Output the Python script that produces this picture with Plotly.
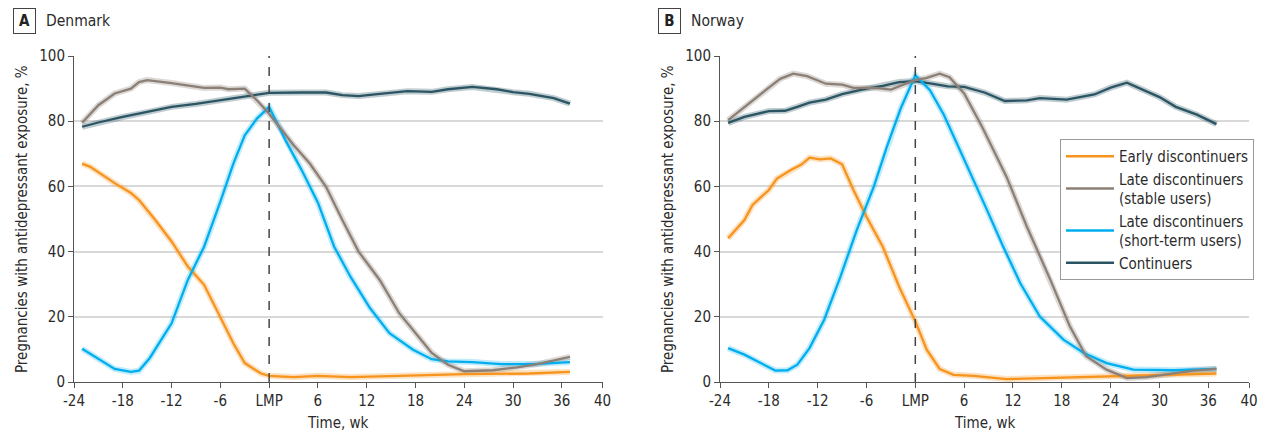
import plotly.graph_objects as go

# ---------------- data ----------------
# Denmark
dk_cont_wk = [-23, -21, -18, -15, -12, -9, -6, -3, 0, 4, 7, 9, 11, 13, 17, 20, 22, 25, 28, 30, 32, 35, 37]
dk_cont = [78.3, 79.6, 81.3, 82.8, 84.4, 85.3, 86.4, 87.5, 88.7, 88.8, 88.8, 88.0, 87.7, 88.2, 89.2, 89.0, 89.8, 90.5, 89.8, 88.9, 88.4, 87.1, 85.4]

dk_stab_wk = [-23, -21, -19, -17, -16, -15, -12, -8, -6, -5, -3, -1.5, 0, 3, 5, 7, 9, 11, 13.6, 16, 18, 20, 22, 24, 27.5, 30.5, 33, 37]
dk_stab = [79.5, 84.9, 88.5, 90.0, 92.0, 92.6, 91.7, 90.2, 90.3, 89.8, 90.0, 86.4, 82.3, 72.7, 67.0, 59.9, 49.7, 40.0, 31.3, 21.1, 15.0, 8.9, 5.3, 3.3, 3.6, 4.5, 5.5, 7.7]

dk_short_wk = [-23, -20.5, -19, -17, -16, -14.7, -12, -10, -8, -6, -4.4, -3, -1.5, 0, 2, 4, 6, 8, 10, 12.4, 14.8, 17.7, 20, 22, 25, 28.5, 32.5, 37]
dk_short = [10.2, 6.3, 4.0, 3.1, 3.5, 7.3, 18.0, 31.3, 41.5, 55.3, 67.0, 75.7, 80.8, 84.4, 74.2, 65.0, 55.0, 41.5, 32.3, 22.7, 15.0, 9.9, 7.0, 6.3, 6.1, 5.5, 5.5, 6.1]

dk_early_wk = [-23, -22, -19, -17, -16, -14, -12, -10, -8, -6, -4.4, -3, -1, 0, 3, 6, 10, 16, 24, 32, 37]
dk_early = [67.0, 66.0, 61.0, 58.0, 55.8, 49.7, 43.1, 35.4, 29.8, 20.1, 11.9, 5.8, 2.6, 1.9, 1.5, 1.9, 1.5, 1.9, 2.4, 2.6, 3.1]

# Norway
no_cont_wk = [-23, -21, -18, -16, -14.5, -13, -11, -9, -6, -4, -2, 0, 2, 4, 6, 8.5, 11, 13.7, 15.3, 18.6, 22, 24, 26, 28, 30, 32, 34.6, 37]
no_cont = [79.5, 81.3, 83.1, 83.2, 84.4, 85.7, 86.6, 88.3, 90.0, 90.8, 92.0, 92.3, 91.5, 90.7, 90.5, 88.8, 86.2, 86.4, 87.1, 86.6, 88.2, 90.3, 91.8, 89.5, 87.4, 84.4, 82.0, 79.1]

no_stab_wk = [-23, -21, -20, -18, -16.6, -15, -13.3, -11, -9, -7.6, -5, -3, -1.4, 0, 1.4, 3, 4.2, 6, 8.2, 11.2, 13.7, 16.6, 19, 21, 23.5, 26, 28.4, 31.7, 34.2, 37]
no_stab = [80.3, 84.4, 86.4, 90.3, 93.0, 94.6, 93.8, 91.5, 91.2, 90.2, 90.2, 89.7, 91.3, 92.6, 93.3, 94.6, 93.5, 88.5, 78.3, 63.0, 47.7, 31.3, 17.0, 7.9, 3.8, 1.2, 1.5, 2.6, 3.5, 4.0]

no_short_wk = [-23, -21, -19, -17.2, -15.7, -14.5, -13, -11.2, -9.2, -7.2, -5.1, -3.5, -1.8, 0, 1.8, 3.5, 5.5, 7.2, 8.8, 10.8, 12.9, 15.3, 18.2, 20.7, 23.5, 26.8, 31.7, 37]
no_short = [10.4, 8.4, 5.8, 3.5, 3.6, 5.3, 10.4, 19.1, 32.3, 46.6, 59.9, 72.1, 83.9, 94.1, 89.5, 82.0, 71.0, 61.9, 52.8, 41.5, 30.3, 20.1, 13.0, 8.9, 5.8, 3.8, 3.6, 4.0]

no_early_wk = [-23, -21, -20, -18, -17, -15.3, -14, -13, -11.7, -10.4, -9, -7.6, -6, -4, -2, 0, 1.4, 3, 4.7, 7.2, 11.2, 15.3, 21.5, 27.6, 37]
no_early = [44.1, 49.7, 54.3, 58.9, 62.4, 65.0, 66.7, 68.8, 68.3, 68.6, 66.8, 58.9, 50.7, 41.5, 29.3, 18.6, 9.9, 4.0, 2.2, 1.9, 0.9, 1.2, 1.5, 2.0, 2.6]

series_names = ["Early discontinuers", "Late discontinuers<br>(stable users)",
                "Late discontinuers<br>(short-term users)", "Continuers"]
panel_titles = ["A", "B"]
panel_countries = ["Denmark", "Norway"]
x_tickvals = [-24, -18, -12, -6, 0, 6, 12, 18, 24, 30, 36, 41]
x_ticktext = ["-24", "-18", "-12", "-6", "LMP", "6", "12", "18", "24", "30", "36", "40"]
y_tickvals = [0, 20, 40, 60, 80, 100]

# ---------------- styling ----------------
colors = ["#F7941D", "#8C8076", "#00AEEF", "#2C5564"]
bands = ["rgba(247,148,29,0.28)", "rgba(140,128,118,0.30)", "rgba(0,174,239,0.25)", "rgba(44,85,100,0.30)"]
FONT = "Liberation Sans Narrow, DejaVu Sans Condensed, Arial Narrow, sans-serif"
TXT = "#2b2b2b"
AX = "#555555"

W, H = 1265, 434
ML, MR, MT, MB = 74, 16, 56, 52
PW, PH = W - ML - MR, H - MT - MB
def px(xp):
    return (xp - ML) / PW
def py(yp):
    return (H - MB - yp) / PH

panels = [
    dict(xa="x", ya="y", data=[(dk_early_wk, dk_early), (dk_stab_wk, dk_stab), (dk_short_wk, dk_short), (dk_cont_wk, dk_cont)],
         x0=74, x1=602.5),
    dict(xa="x2", ya="y2", data=[(no_early_wk, no_early), (no_stab_wk, no_stab), (no_short_wk, no_short), (no_cont_wk, no_cont)],
         x0=720, x1=1249),
]
y_top, y_bot = 56, 382

fig = go.Figure()
draw_order = [3, 0, 2, 1]
for pi, p in enumerate(panels):
    for si in draw_order:
        wk, val = p["data"][si]
        fig.add_trace(go.Scatter(x=wk, y=val, mode="lines", xaxis=p["xa"], yaxis=p["ya"],
                                 line=dict(color=bands[si], width=6), showlegend=False, hoverinfo="skip"))
    for si in draw_order:
        wk, val = p["data"][si]
        fig.add_trace(go.Scatter(x=wk, y=val, mode="lines", xaxis=p["xa"], yaxis=p["ya"],
                                 name=series_names[si], legendrank=si + 1,
                                 line=dict(color=colors[si], width=2.3), showlegend=(pi == 1)))

axis_common = dict(showgrid=False, zeroline=False, showline=True, linecolor=AX, linewidth=1,
                   ticks="outside", ticklen=5, tickcolor=AX, tickwidth=1, automargin=False,
                   tickfont=dict(family=FONT, size=15, color=TXT))
layout = dict(width=W, height=H, margin=dict(l=ML, r=MR, t=MT, b=MB, autoexpand=False),
              paper_bgcolor="white", plot_bgcolor="white",
              font=dict(family=FONT, size=15, color=TXT))
shapes = []
annotations = []
for pi, p in enumerate(panels):
    sfx = "" if pi == 0 else "2"
    layout["xaxis" + sfx] = dict(axis_common, domain=[px(p["x0"]), px(p["x1"])], range=[-24, 41],
                                 tickmode="array", tickvals=x_tickvals, ticktext=x_ticktext,
                                 anchor="y" + sfx, fixedrange=True)
    layout["yaxis" + sfx] = dict(axis_common, domain=[py(y_bot), py(y_top)], range=[0, 100],
                                 tickmode="array", tickvals=y_tickvals, anchor="x" + sfx,
                                 showgrid=True, gridcolor="#d9d9d9", gridwidth=2, fixedrange=True)
    # LMP dashed reference line
    shapes.append(dict(type="line", xref="x" + sfx, yref="y" + sfx, x0=0, x1=0, y0=0, y1=100,
                       line=dict(color="#444444", width=1.5, dash="dash"), layer="above"))
    # axis titles
    annotations.append(dict(text="Time, wk", xref="paper", yref="paper",
                            x=px((p["x0"] + p["x1"]) / 2), y=py(423), xanchor="center", yanchor="middle",
                            showarrow=False, font=dict(family=FONT, size=15, color=TXT)))
    annotations.append(dict(text="Pregnancies with antidepressant exposure, %", xref="paper", yref="paper",
                            x=px(p["x0"] - 52), y=py((y_top + y_bot) / 2), textangle=-90,
                            xanchor="center", yanchor="middle", showarrow=False,
                            font=dict(family=FONT, size=15, color=TXT)))
    # panel label
    bx = 13 if pi == 0 else 658
    annotations.append(dict(text="<b>" + panel_titles[pi] + "</b>", xref="paper", yref="paper",
                            x=px(bx + 11), y=py(21), xanchor="center", yanchor="middle", showarrow=False,
                            bordercolor="#444444", borderwidth=1, borderpad=3, width=15,
                            font=dict(family=FONT, size=15, color="#222222")))
    annotations.append(dict(text=panel_countries[pi], xref="paper", yref="paper",
                            x=px(bx + 31), y=py(21), xanchor="left", yanchor="middle", showarrow=False,
                            font=dict(family=FONT, size=15.5, color=TXT)))

layout["shapes"] = shapes
layout["annotations"] = annotations
layout["legend"] = dict(x=px(1060), y=py(139), xanchor="left", yanchor="top",
                        bordercolor="#999999", borderwidth=1, bgcolor="white", itemwidth=48,
                        font=dict(family=FONT, size=15, color=TXT), tracegroupgap=0)
layout["showlegend"] = True
fig.update_layout(**layout)
fig.write_html("out.html", config={"displayModeBar": False},
               post_script="document.body.style.margin='0px';document.body.style.padding='0px';")
